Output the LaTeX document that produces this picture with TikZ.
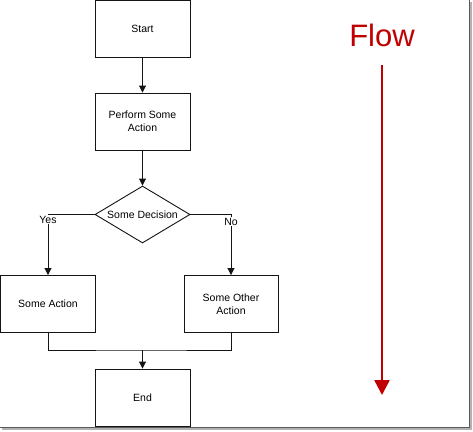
\documentclass[tikz,border=0pt]{standalone}
\usepackage{fontspec}
\setmainfont{Liberation Sans}
\usepackage{xcolor}
\usepackage{tikz}
\usetikzlibrary{arrows.meta, shapes.geometric}
\definecolor{flowred}{RGB}{192, 0, 0}
\definecolor{inkdark}{RGB}{20, 20, 20}
\definecolor{shadowgray}{RGB}{90, 90, 90}
\tikzset{
    box/.style   ={draw=inkdark, line width=0.9pt, fill=white,
                   minimum width=95pt, minimum height=57pt, inner sep=2pt,
                   align=center, font=\fontsize{10.5}{13}\selectfont},
    choice/.style={box, diamond, aspect=1.67, inner sep=0pt},
    ar/.style    ={-{Triangle[length=7pt, width=7pt]}, line width=0.9pt, draw=inkdark},
    ln/.style    ={line width=0.9pt, draw=inkdark},
    lbl/.style   ={font=\fontsize{10.5}{13}\selectfont, fill=white, inner sep=1pt},
    bigar/.style ={-{Triangle[length=15pt, width=15pt]}, line width=2.6pt, draw=flowred}
}

\begin{document}
\begin{tikzpicture}[x=1pt, y=-1pt]
  \useasboundingbox (0,0) rectangle (473,431);

  % main column
  \node[box] (start)   at (142.5, 28.5)  {Start};
  \node[box] (perform) at (142.5, 121.5) {Perform Some\\Action};
  \node[choice] (dec)  at (142.5, 214.5) {Some Decision};
  \node[box] (act)     at (48, 304)      {Some Action};
  \node[box, minimum width=94pt] (other) at (231, 304) {Some Other\\Action};
  \node[box] (end)     at (142.5, 397.5) {End};
  \coordinate (merge) at (142.5, 350);

  \draw[ar] (start) -- (perform);
  \draw[ar] (perform) -- (dec);
  \draw[ar] (dec.west) -| node[lbl, anchor=north, pos=0.5] (yes) {Yes} (act.north);
  \draw[ar] (dec.east) -| node[lbl, anchor=north, pos=0.5, yshift=-2pt] (no) {No} (other.north);
  \draw[ln] (act.south) |- (merge) -| (other.south);
  \draw[ar] (merge) -- (end.north);

  % flow direction
  \node[font=\fontsize{31}{34}\selectfont, text=flowred] (flow) at (382, 35) {Flow};
  \coordinate (flowtop) at (382, 65);
  \coordinate (flowbot) at (382, 395);
  \draw[bigar] (flowtop) -- (flowbot);

  % page shadow
  \draw[shadowgray, line width=1.6pt] (469.5, 0) -- (469.5, 427.5) -- (0, 427.5);
  \draw[black!30, line width=1.2pt] (471, 2) -- (471, 429) -- (2, 429);
\end{tikzpicture}
\end{document}
